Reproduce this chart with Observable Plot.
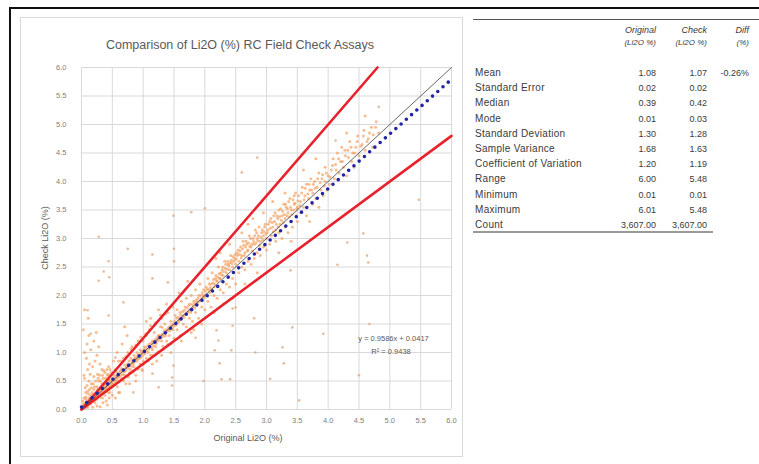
<!DOCTYPE html>
<html>
<head>
<meta charset="utf-8">
<script src="https://cdn.jsdelivr.net/npm/d3@7"></script>
<script src="https://cdn.jsdelivr.net/npm/@observablehq/plot@0.6"></script>
<style>
  html, body { margin: 0; padding: 0; background: #fff; width: 759px; height: 464px; overflow: hidden; }
  body { position: relative; font-family: "Liberation Sans", Arial, sans-serif; }
  .abs { position: absolute; white-space: nowrap; }
</style>
</head>
<body>
<div class="abs" style="left:9px;top:7px;width:760px;height:470px;border-left:2px solid #111;border-top:2px solid #111;"></div>
<div class="abs" style="left:20px;top:17px;width:441px;height:438px;border:1px solid #d9d9d9;"></div>
<div id="plot" class="abs" style="left:21px;top:57px;"></div>
<div id="overlay"></div>
<script>
// ---------- chart text ----------
const chartTitle = "Comparison of Li2O (%) RC Field Check Assays";
const xTitle = "Original Li2O (%)";
const yTitle = "Check Li2O (%)";
const axisTicks = [0, 0.5, 1, 1.5, 2, 2.5, 3, 3.5, 4, 4.5, 5, 5.5, 6];

// ---------- reference lines ----------
const upperSlope = 1.25;   // +25% envelope
const lowerSlope = 0.8;    // -20% envelope
const fitSlope = 0.9586;
const fitIntercept = 0.0417;
const fitLabels = ["y = 0.9586x + 0.0417", "R² = 0.9438"];

// ---------- assay pairs [original, check] ----------
const bandPoints = [
[0.02,0.03],[0.03,0.08],[0.05,0.02],[0.06,0.12],[0.08,0.05],[0.1,0.15],[0.1,0.04],[0.12,0.2],[0.13,0.09],[0.15,0.25],[0.15,0.1],[0.17,0.3],[0.18,0.14],[0.2,0.22],[0.2,0.35],[0.22,0.12],[0.23,0.28],[0.25,0.4],[0.25,0.18],[0.27,0.3],[0.28,0.5],[0.3,0.22],[0.3,0.36],[0.32,0.28],[0.33,0.45],[0.35,0.3],[0.35,0.55],[0.37,0.4],[0.38,0.25],[0.4,0.48],[0.4,0.35],[0.42,0.6],[0.43,0.3],[0.45,0.42],[0.45,0.52],[0.47,0.38],[0.48,0.65],[0.5,0.45],[0.5,0.55],[0.04,0.2],[0.07,0.3],[0.09,0.42],[0.12,0.5],[0.05,0.55],[0.1,0.7],[0.14,0.62],[0.18,0.75],[0.2,0.58],[0.22,0.85],[0.08,0.9],[0.15,1.05],[0.25,0.95],[0.12,1.3],[0.2,1.2],[0.3,0.8],[0.28,1.1],[0.05,1.0],[0.3,0.05],[0.35,0.12],[0.4,0.15],[0.45,0.2],[0.5,0.25],[0.25,0.06],[0.18,0.04],[0.42,0.08],[0.55,0.2],[0.6,0.3],[0.38,0.65],[0.33,0.7],[0.44,0.75],[0.26,0.62],[0.16,0.45],[0.06,0.38],[0.02,0.15],[0.04,0.6],[0.09,1.15],[0.13,0.8],[0.24,1.35],[0.03,1.4],[0.11,1.6],[0.05,1.75],
[0.01,0.05],[0.04,0.1],[0.07,0.18],[0.09,0.08],[0.11,0.27],[0.14,0.16],[0.16,0.2],[0.19,0.26],[0.21,0.16],[0.24,0.24],[0.26,0.35],[0.29,0.26],[0.31,0.4],[0.34,0.2],[0.36,0.45],[0.39,0.32],[0.41,0.42],[0.44,0.5],[0.46,0.3],[0.49,0.4],
[0.55,0.5],[0.55,0.7],[0.58,0.4],[0.6,0.62],[0.6,0.85],[0.62,0.5],[0.65,0.72],[0.65,0.55],[0.68,0.9],[0.7,0.6],[0.7,0.78],[0.72,0.45],[0.75,0.8],[0.75,1.0],[0.78,0.65],[0.8,0.9],[0.8,0.7],[0.82,1.1],[0.85,0.75],[0.85,0.95],[0.88,0.6],[0.9,1.0],[0.9,0.85],[0.92,1.2],[0.95,0.8],[0.95,1.05],[0.98,0.7],[1.0,1.0],[1.0,1.2],[1.0,0.85],[0.58,1.0],[0.66,1.15],[0.74,1.3],[0.62,0.3],[0.78,0.45],[0.88,0.5],[0.52,0.85],[0.7,1.45],
[0.53,0.6],[0.57,0.66],[0.63,0.68],[0.67,0.62],[0.73,0.74],[0.77,0.85],[0.83,0.82],[0.87,0.88],[0.93,0.95],[0.97,0.92],
[1.02,1.1],[1.05,0.9],[1.05,1.3],[1.08,1.0],[1.1,1.15],[1.1,1.4],[1.12,0.95],[1.15,1.2],[1.15,1.05],[1.18,1.35],[1.2,1.1],[1.2,1.5],[1.22,1.25],[1.25,1.0],[1.25,1.3],[1.28,1.45],[1.3,1.2],[1.3,1.6],[1.32,1.05],[1.35,1.35],[1.35,1.5],[1.38,1.2],[1.4,1.4],[1.4,1.7],[1.42,1.3],[1.45,1.15],[1.45,1.55],[1.48,1.4],[1.5,1.5],[1.5,1.25],[1.12,1.6],[1.25,1.75],[1.38,1.85],[1.15,0.8],[1.3,0.95],[1.45,1.0],[1.05,1.55],[1.22,0.85],[1.48,1.8],
[1.52,1.65],[1.55,1.4],[1.55,1.75],[1.58,1.55],[1.6,1.3],[1.6,1.7],[1.62,1.9],[1.65,1.5],[1.65,1.65],[1.68,1.8],[1.7,1.45],[1.7,1.95],[1.72,1.7],[1.75,1.6],[1.75,1.85],[1.78,2.0],[1.8,1.55],[1.8,1.75],[1.82,1.9],[1.85,1.7],[1.85,2.1],[1.88,1.85],[1.9,1.6],[1.9,2.0],[1.92,2.2],[1.95,1.8],[1.95,1.95],[1.98,2.1],[2.0,1.75],[2.0,2.0],[1.58,2.05],[1.72,2.25],[1.88,2.35],[1.62,1.2],[1.78,1.35],[1.95,1.5],[1.68,2.1],[1.82,1.4],
[2.02,2.15],[2.05,1.9],[2.05,2.3],[2.08,2.05],[2.1,1.8],[2.1,2.2],[2.12,2.4],[2.15,2.0],[2.15,2.15],[2.18,2.35],[2.2,1.95],[2.2,2.25],[2.22,2.5],[2.25,2.1],[2.25,2.3],[2.28,2.45],[2.3,2.05],[2.3,2.35],[2.32,2.6],[2.35,2.2],[2.35,2.4],[2.38,2.55],[2.4,2.15],[2.4,2.45],[2.42,2.7],[2.45,2.3],[2.45,2.5],[2.48,2.65],[2.5,2.2],[2.5,2.55],[2.08,2.6],[2.25,2.75],[2.4,2.9],[2.15,1.7],[2.3,1.85],[2.45,1.95],[2.18,2.65],
[2.52,2.75],[2.55,2.4],[2.55,2.6],[2.58,2.85],[2.6,2.5],[2.6,2.7],[2.62,2.95],[2.65,2.45],[2.65,2.75],[2.68,2.9],[2.7,2.6],[2.7,2.8],[2.72,3.05],[2.75,2.55],[2.75,2.85],[2.78,3.0],[2.8,2.65],[2.8,2.9],[2.82,3.15],[2.85,2.75],[2.85,3.0],[2.88,3.2],[2.9,2.7],[2.9,2.95],[2.92,3.1],[2.95,2.85],[2.95,3.05],[2.98,3.25],[3.0,2.8],[3.0,3.0],[2.6,3.1],[2.78,3.35],[2.95,3.45],[2.65,2.2],[2.85,2.4],[2.7,3.25],
[3.02,3.15],[3.05,2.9],[3.05,3.3],[3.08,3.05],[3.1,3.2],[3.12,3.4],[3.15,2.95],[3.15,3.15],[3.18,3.35],[3.2,3.1],[3.2,3.5],[3.22,3.25],[3.25,3.0],[3.25,3.4],[3.28,3.6],[3.3,3.2],[3.3,3.35],[3.32,3.55],[3.35,3.1],[3.35,3.45],[3.38,3.7],[3.4,3.3],[3.4,3.5],[3.42,3.2],[3.45,3.6],[3.45,3.75],[3.48,3.4],[3.5,3.55],[3.5,3.3],[3.1,3.65],[3.3,3.8],[3.2,2.75],[3.4,2.95],
[3.52,3.75],[3.55,3.45],[3.55,3.65],[3.58,3.9],[3.6,3.55],[3.62,3.75],[3.65,3.95],[3.65,3.4],[3.68,3.7],[3.7,3.85],[3.72,4.05],[3.75,3.6],[3.75,3.8],[3.78,4.0],[3.8,3.7],[3.82,3.9],[3.85,4.15],[3.85,3.55],[3.88,3.85],[3.9,4.05],[3.92,3.75],[3.95,4.0],[3.95,4.25],[3.98,3.85],[4.0,4.1],[3.6,4.2],[3.8,4.4],[3.7,3.3],
[4.02,3.95],[4.05,4.2],[4.08,4.4],[4.1,4.05],[4.12,4.3],[4.15,4.5],[4.18,4.15],[4.2,4.35],[4.22,4.6],[4.25,4.25],[4.28,4.45],[4.3,4.1],[4.32,4.55],[4.35,4.7],[4.38,4.35],[4.4,4.5],[4.42,4.25],[4.45,4.6],[4.48,4.8],[4.5,4.45],[4.55,4.65],[4.58,4.9],[4.6,4.55],[4.65,4.75],[4.7,4.95],[4.72,4.6],[4.78,5.05],[4.82,4.85],[4.3,4.85],[4.6,5.15]
];
const corePoints = [
[0.03,0.04],[0.05,0.07],[0.06,0.05],[0.08,0.1],[0.09,0.13],[0.11,0.1],[0.12,0.14],[0.14,0.12],[0.15,0.18],[0.17,0.15],[0.18,0.2],[0.19,0.17],[0.21,0.24],[0.22,0.2],[0.23,0.19],[0.24,0.3],[0.26,0.25],[0.27,0.22],[0.28,0.32],[0.29,0.29],[0.31,0.33],[0.32,0.36],[0.33,0.3],[0.34,0.38],[0.36,0.34],[0.37,0.32],[0.38,0.42],[0.39,0.38],[0.41,0.36],[0.42,0.45],[0.43,0.4],[0.44,0.35],[0.46,0.48],[0.47,0.44],[0.48,0.5],[0.49,0.47],[0.51,0.5],[0.52,0.44],[0.53,0.55],[0.54,0.5],[0.56,0.58],[0.57,0.52],[0.58,0.6],[0.59,0.55],[0.07,0.22],[0.1,0.32],[0.13,0.35],[0.16,0.38],[0.19,0.45],[0.21,0.4],[0.23,0.5],[0.27,0.55],[0.29,0.6],[0.31,0.5],[0.34,0.6],[0.36,0.68],[0.39,0.55],[0.41,0.7],[0.43,0.62],[0.46,0.7],
[0.61,0.58],[0.62,0.66],[0.64,0.6],[0.66,0.68],[0.67,0.7],[0.69,0.66],[0.71,0.72],[0.72,0.68],[0.74,0.76],[0.76,0.72],[0.77,0.78],[0.79,0.8],[0.81,0.76],[0.82,0.86],[0.84,0.8],[0.86,0.9],[0.87,0.84],[0.89,0.92],[0.91,0.88],[0.92,0.96],[0.94,0.9],[0.96,0.98],[0.97,1.02],[0.99,0.95],[1.01,1.05],[1.03,0.98],[1.04,1.08],[1.06,1.02],[1.07,1.12],[1.09,1.06],[1.11,1.1],[1.13,1.16],[1.14,1.08],[1.16,1.18],[1.17,1.12],[1.19,1.22],[1.21,1.16],[1.23,1.2],[1.24,1.28],[1.26,1.22],[1.27,1.3],[1.29,1.26],[1.31,1.32],[1.33,1.28],[1.34,1.38],[1.36,1.3],[1.37,1.4],[1.39,1.36],[1.41,1.44],[1.43,1.38],[1.44,1.46],[1.46,1.42],[1.47,1.5],[1.49,1.46],[0.64,0.85],[0.72,0.93],[0.8,1.06],[0.88,1.13],[0.96,1.27],[1.04,1.33],[1.12,1.47],[1.2,1.52],[1.28,1.66],[1.36,1.68],[0.68,0.5],[0.76,0.57],[0.84,0.66],[0.92,0.71],[1.0,0.79],[1.08,0.85],[1.16,0.95],[1.24,1.01],[1.32,1.11],[1.4,1.14],
[1.51,1.55],[1.53,1.48],[1.54,1.6],[1.56,1.52],[1.57,1.62],[1.59,1.58],[1.61,1.66],[1.63,1.6],[1.64,1.72],[1.66,1.62],[1.67,1.74],[1.69,1.68],[1.71,1.78],[1.73,1.72],[1.74,1.82],[1.76,1.76],[1.77,1.7],[1.79,1.84],[1.81,1.8],[1.83,1.86],[1.84,1.78],[1.86,1.92],[1.87,1.88],[1.89,1.95],[1.91,1.9],[1.93,2.0],[1.94,1.92],[1.96,2.05],[1.97,2.0],[1.99,1.96],[2.01,2.08],[2.03,2.02],[2.04,2.12],[2.06,2.1],[2.07,2.2],[2.09,2.14],[2.11,2.1],[2.13,2.22],[2.14,2.28],[2.16,2.2],[2.17,2.3],[2.19,2.26],[2.21,2.32],[2.23,2.38],[2.24,2.3],[2.26,2.4],[2.27,2.36],[2.29,2.5],[2.31,2.42],[2.33,2.48],[2.34,2.55],[2.36,2.46],[2.37,2.6],[2.39,2.52],[2.41,2.58],[2.43,2.62],[2.44,2.56],[2.46,2.68],[2.47,2.6],[2.49,2.72],[2.51,2.64],[2.53,2.7],[2.54,2.8],[2.56,2.72],[2.57,2.78],[2.59,2.66],[2.61,2.82],[2.63,2.88],[2.64,2.7],[2.66,2.85],[2.67,2.95],[2.69,2.78],[2.71,2.92],[2.73,2.86],[2.74,3.0],[2.76,2.9],[2.77,2.78],[2.79,2.95],[2.81,3.05],[2.83,2.92],[2.84,3.1],[2.86,2.96],[2.87,3.05],[2.89,2.88],[2.91,3.02],[2.93,3.15],[2.94,2.98],[2.96,3.12],[2.97,3.2],[2.99,3.08],
[3.01,3.1],[3.03,3.25],[3.06,3.18],[3.07,3.35],[3.09,3.28],[3.11,3.12],[3.13,3.3],[3.14,3.45],[3.16,3.25],[3.17,3.4],[3.19,3.2],[3.21,3.38],[3.23,3.52],[3.24,3.32],[3.26,3.48],[3.27,3.28],[3.29,3.42],[3.31,3.6],[3.33,3.4],[3.34,3.52],[3.36,3.65],[3.37,3.38],[3.39,3.55],[3.41,3.42],[3.43,3.68],[3.44,3.5],[3.46,3.62],[3.47,3.8],[3.49,3.52],[3.51,3.66],[3.54,3.58],[3.57,3.8],[3.61,3.68],[3.63,3.88],[3.67,3.78],[3.69,3.95],[3.73,3.85],[3.76,3.95],[3.79,3.88],[3.83,4.05],[3.87,3.98],[3.91,4.12],[3.94,3.92],[3.97,4.15],[4.03,4.08],[4.07,4.28],[4.13,4.2],[4.17,4.4],[4.23,4.35],[4.27,4.55],[4.33,4.42],[4.37,4.6],[4.43,4.5],[4.47,4.7],[4.53,4.62],[4.57,4.8],[4.63,4.7],[4.67,4.85],[4.73,4.82],[4.77,4.95]
];
const outlierPoints = [
[0.28,3.03],[0.75,2.82],[0.44,2.6],[0.36,2.42],[0.28,2.26],[0.45,2.32],[1.49,3.4],[1.78,3.46],[1.5,2.82],[1.5,2.6],[1.15,2.72],[1.15,2.3],[1.4,2.23],[2.0,3.53],[2.6,4.16],[2.85,4.42],[4.12,4.72],[4.82,5.31],[5.47,3.68],[4.63,2.7],[4.65,2.58],[4.31,2.93],[4.57,3.09],[3.39,2.44],[4.15,2.54],[2.45,1.77],[2.5,1.79],[2.8,1.6],[2.45,1.47],[2.19,1.39],[2.22,1.21],[2.16,1.04],[2.43,1.04],[2.82,1.0],[3.26,1.09],[3.28,0.81],[2.24,0.81],[2.27,0.53],[2.41,0.53],[3.06,0.54],[3.42,1.44],[3.92,1.33],[3.53,0.16],[1.98,0.5],[4.67,1.5],[4.5,0.6],[0.1,1.74],[0.15,1.33],[0.44,1.65],[0.68,1.88],[0.55,0.91],[0.99,0.68],[1.15,0.63],[1.47,0.56],[1.47,0.42],[1.25,0.39],[0.84,0.3],[1.2,0.95],[1.49,0.77],[1.85,1.26],[1.31,1.44]
];

// ---------- statistics table ----------
const statLabels = ["Mean","Standard Error","Median","Mode","Standard Deviation","Sample Variance","Coefficient of Variation","Range","Minimum","Maximum","Count"];
const originalStats = ["1.08","0.02","0.39","0.01","1.30","1.68","1.20","6.00","0.01","6.01","3,607.00"];
const checkStats = ["1.07","0.02","0.42","0.03","1.28","1.63","1.19","5.48","0.01","5.48","3,607.00"];
const diffStats = ["-0.26%","","","","","","","","","",""];
const headerLines = [["Original","(Li2O %)"],["Check","(Li2O %)"],["Diff","(%)"]];

// ---------- plot ----------
const toRow = ([original, check]) => ({original, check});
const assays = bandPoints.concat(corePoints).map(toRow);
const outliers = outlierPoints.map(toRow);
const lineOf = (slope, intercept, xMax) => [{x: 0, y: intercept}, {x: xMax, y: slope * xMax + intercept}];

const chart = Plot.plot({
  width: 440,
  height: 398,
  marginLeft: 60,
  marginRight: 10,
  marginTop: 10,
  marginBottom: 46,
  style: {fontFamily: "'Liberation Sans', Arial, sans-serif", fontSize: "7.5px", color: "#808080", background: "transparent", overflow: "visible"},
  x: {domain: [0, 6], ticks: axisTicks, tickFormat: d3.format(".1f"), tickSize: 0, tickPadding: 8, label: null},
  y: {domain: [0, 6], ticks: axisTicks, tickFormat: d3.format(".1f"), tickSize: 0, tickPadding: 15, label: null},
  marks: [
    Plot.ruleX(axisTicks, {stroke: "#d9d9d9", strokeWidth: 1}),
    Plot.ruleY(axisTicks, {stroke: "#d9d9d9", strokeWidth: 1}),
    Plot.dot(outliers, {x: "original", y: "check", r: 1.3, fill: "#d9a47a", fillOpacity: 0.75, stroke: null}),
    Plot.dot(assays, {x: "original", y: "check", r: 1.5, fill: "#f29a55", fillOpacity: 0.65, stroke: null}),
    Plot.line(lineOf(upperSlope, 0, 6 / upperSlope), {x: "x", y: "y", stroke: "#e8222c", strokeWidth: 2.6}),
    Plot.line(lineOf(lowerSlope, 0, 6), {x: "x", y: "y", stroke: "#e8222c", strokeWidth: 2.6}),
    Plot.line(lineOf(1, 0, 6), {x: "x", y: "y", stroke: "#404040", strokeWidth: 0.8}),
    Plot.line(lineOf(fitSlope, fitIntercept, 6), {x: "x", y: "y", stroke: "#2323a6", strokeWidth: 3.6, strokeDasharray: "0 7", strokeLinecap: "round"}),
    Plot.text([{x: 5.06, y: 1.25, t: fitLabels[0]}, {x: 5.02, y: 1.02, t: fitLabels[1]}], {x: "x", y: "y", text: "t", fill: "#595959", fontSize: 7.5})
  ]
});
document.getElementById("plot").appendChild(chart);

// ---------- overlay texts ----------
const overlay = document.getElementById("overlay");
function place(text, x, y, align, css) {
  const d = document.createElement("div");
  d.className = "abs";
  d.textContent = text;
  const tx = align === "right" ? "-100%" : align === "center" ? "-50%" : "0";
  d.style.cssText += `left:${x}px;top:${y}px;transform:translate(${tx},-50%);line-height:1;` + (css || "");
  overlay.appendChild(d);
  return d;
}
place(chartTitle, 240, 45, "center", "font-size:12.5px;color:#595959;");
place(xTitle, 248, 438, "center", "font-size:9px;color:#595959;");
const yl = place(yTitle, 45, 238, "center", "font-size:9px;color:#595959;");
yl.style.transform = "translate(-50%,-50%) rotate(-90deg)";

// table rules
const r1 = document.createElement("div");
r1.className = "abs";
r1.style.cssText = "left:473px;top:19px;width:286px;height:0;border-top:1px solid #555;";
overlay.appendChild(r1);
const r2 = document.createElement("div");
r2.className = "abs";
r2.style.cssText = "left:473px;top:231px;width:240px;height:0;border-top:2px solid #9a9a9a;";
overlay.appendChild(r2);

const colRight = [656, 707, 749];
const tableCss = "font-size:9px;color:#3a3a3a;";
headerLines.forEach((lines, i) => {
  place(lines[0], colRight[i], 30, "right", tableCss + "font-style:italic;");
  place(lines[1], colRight[i], 43, "right", tableCss + "font-style:italic;font-size:8px;");
});
statLabels.forEach((label, i) => {
  const y = 73 + i * 15.2;
  place(label, 475, y, "left", "font-size:10px;letter-spacing:0.3px;color:#3a3a3a;");
  place(originalStats[i], colRight[0], y, "right", tableCss);
  place(checkStats[i], colRight[1], y, "right", tableCss);
  if (diffStats[i]) place(diffStats[i], colRight[2], y, "right", tableCss);
});
</script>
</body>
</html>
